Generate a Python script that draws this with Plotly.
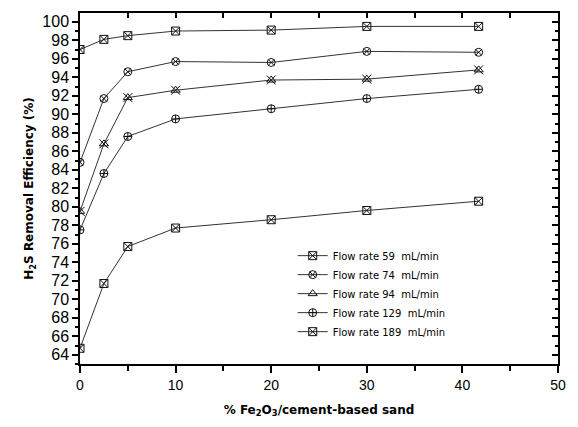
import plotly.graph_objects as go

x_vals = [0, 2.5, 5, 10, 20, 30, 41.7]
names = ["Flow rate 59  mL/min", "Flow rate 74  mL/min", "Flow rate 94  mL/min",
         "Flow rate 129  mL/min", "Flow rate 189  mL/min"]
y59 = [97.0, 98.1, 98.5, 99.0, 99.1, 99.5, 99.5]
y74 = [84.8, 91.7, 94.6, 95.7, 95.6, 96.8, 96.7]
y94 = [79.5, 86.8, 91.8, 92.6, 93.7, 93.8, 94.8]
y129 = [77.5, 83.6, 87.6, 89.5, 90.6, 91.7, 92.7]
y189 = [64.7, 71.7, 75.7, 77.7, 78.6, 79.6, 80.6]
series = [y59, y74, y94, y129, y189]
symbols = ["square-x-open", "circle-x-open", "triangle-up-open", "circle-cross-open", "square-x-open"]

fig = go.Figure()
for i, (nm, ys, sym) in enumerate(zip(names, series, symbols)):
    fig.add_trace(go.Scatter(
        x=x_vals, y=ys, name=nm, mode="lines+markers", legendgroup=nm,
        line=dict(color="#333333", width=1),
        marker=dict(symbol=sym, size=8, color="#111111", line=dict(width=1, color="#111111")),
    ))
    if i == 2:
        fig.add_trace(go.Scatter(
            x=x_vals, y=ys, mode="markers", legendgroup=nm, showlegend=False,
            marker=dict(symbol="x-thin-open", size=9, color="#111111",
                        line=dict(width=1, color="#111111")),
        ))

tickfont = dict(family="Liberation Sans, Arial", size=16, color="black")
fig.update_layout(
    width=578, height=427,
    margin=dict(l=80, r=13, t=13, b=60),
    paper_bgcolor="white", plot_bgcolor="white",
    showlegend=True,
    legend=dict(x=0.445, y=0.35, xanchor="left", yanchor="top",
                font=dict(family="DejaVu Sans, Verdana", size=10, color="black"),
                bgcolor="rgba(0,0,0,0)", tracegroupgap=0),
    xaxis=dict(range=[0, 50], dtick=10, tick0=0, showgrid=False, zeroline=False,
               showline=True, linecolor="black", linewidth=1.5,
               ticks="outside", ticklen=7, tickwidth=1.5, tickcolor="black",
               minor=dict(dtick=5, ticks="outside", ticklen=5, tickwidth=1.5, tickcolor="black"),
               tickfont=dict(family="Liberation Sans, Arial", size=14, color="black"),
               title=dict(text="<b>% Fe<sub>2</sub>O<sub>3</sub>/cement-based sand</b>",
                          font=dict(family="DejaVu Sans, Verdana", size=12, color="black"),
                          standoff=14)),
    yaxis=dict(range=[63, 100.95], dtick=2, tick0=64, showgrid=False, zeroline=False,
               showline=True, linecolor="black", linewidth=1.5,
               ticks="outside", ticklen=6, tickwidth=1.5, tickcolor="black",
               minor=dict(dtick=1, ticks="outside", ticklen=3, tickwidth=1.5, tickcolor="black"),
               tickfont=tickfont,
               title=dict(text="<b>H<sub>2</sub>S Removal Efficiency (%)</b>",
                          font=dict(family="DejaVu Sans, Verdana", size=12, color="black"),
                          standoff=6)),
    xaxis2=dict(range=[0, 50], overlaying="x", side="top", dtick=5, tick0=0,
                showgrid=False, zeroline=False, showline=True, linecolor="black", linewidth=1.5,
                ticks="inside", ticklen=5, tickwidth=1.5, tickcolor="black",
                showticklabels=False),
    yaxis2=dict(range=[63, 100.95], overlaying="y", side="right", dtick=2, tick0=64,
                showgrid=False, zeroline=False, showline=True, linecolor="black", linewidth=1.5,
                ticks="inside", ticklen=6, tickwidth=1.5, tickcolor="black",
                minor=dict(dtick=1, ticks="inside", ticklen=3, tickwidth=1.5, tickcolor="black"),
                showticklabels=False),
)
fig.add_trace(go.Scatter(x=[None], y=[None], xaxis="x2", yaxis="y2", showlegend=False,
                         hoverinfo="skip"))

fig.write_html("out.html")
